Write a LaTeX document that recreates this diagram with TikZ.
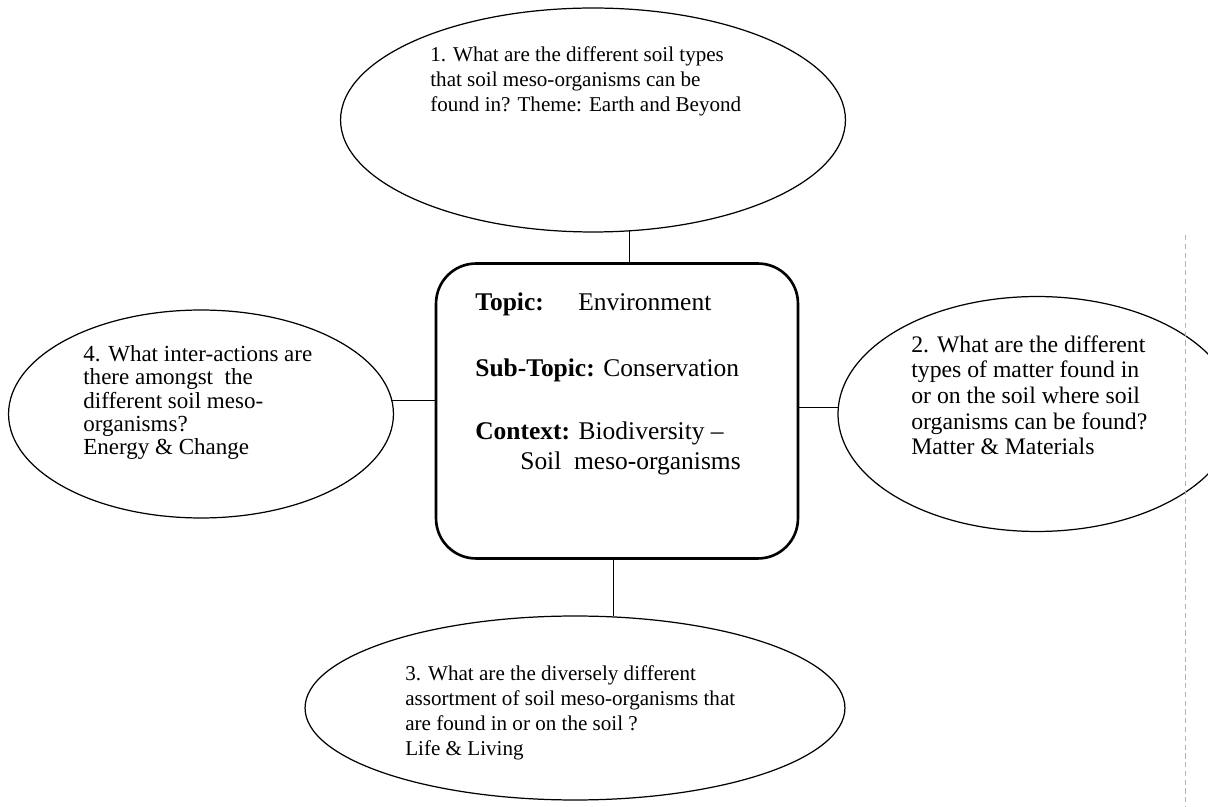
\documentclass[tikz,border=0pt]{standalone}
\usepackage{fontspec}
\setmainfont{Liberation Serif}
\usetikzlibrary{shapes.geometric}
\tikzset{
	bubble/.style={
			ellipse, draw, line width=0.7pt, inner sep=0pt
		},
	bubbletext/.style={
			anchor=north west, align=left, inner sep=0pt,
			font=\fontsize{12}{14.2}\selectfont
		},
	topicbox/.style={
			draw, line width=1.5pt, rounded corners=0.8cm,
			minimum width=7.24cm, minimum height=5.9cm
		},
	link/.style={line width=0.6pt}
}
\begin{document}
\begin{tikzpicture}[x=0.02cm, y=-0.02cm]
			\useasboundingbox (0,0) rectangle (1208,807);

			% centre box
			\node[topicbox] (topic) at (617,411) {};
			\node[anchor=north west, align=left, inner sep=0pt,
				font=\fontsize{14.5}{17.5}\selectfont] (topictext) at (475,292)
				{\makebox[2.06cm][l]{\textbf{Topic:}}Environment\\[20.5pt]
				\textbf{Sub-Topic:} Conservation\\[18pt]
				\textbf{Context:} Biodiversity --\\
				\hspace*{0.9cm}Soil\ \ meso-organisms};

			% the four questions
			\node[bubble, minimum width=10.1cm, minimum height=4.48cm] (q1) at (593,120) {};
			\node[bubbletext] (q1text) at (430,46)
				{1. What are the different soil types\\
				that soil meso-organisms can be\\
				found in? Theme: Earth and Beyond};

			\node[bubble, minimum width=7.96cm, minimum height=4.7cm] (q2) at (1037,414) {};
			\node[bubbletext, font=\fontsize{13.5}{14.6}\selectfont] (q2text) at (911,335)
				{2. What are the different\\
				types of matter found in\\
				or on the soil where soil\\
				organisms can be found?\\
				Matter \& Materials};

			\node[bubble, minimum width=10.8cm, minimum height=3.68cm] (q3) at (575,708) {};
			\node[bubbletext] (q3text) at (405,665)
				{3. What are the diversely different\\
				assortment of soil meso-organisms that\\
				are found in or on the soil ?\\
				Life \& Living};

			\node[bubble, minimum width=7.7cm, minimum height=4.16cm] (q4) at (201,414) {};
			\node[bubbletext, font=\fontsize{13.1}{13.3}\selectfont] (q4text) at (83,345)
				{4. What inter-actions are\\
				there amongst\ \ the\\
				different soil meso-\\
				organisms?\\
				Energy \& Change};

			% links
			\draw[link] (q1.-72) -- (q1.-72 |- topic.north);
			\draw[link] (q2.178) -- (q2.178 -| topic.east);
			\draw[link] (q3.67) -- (q3.67 |- topic.south);
			\draw[link] (q4.4) -- (q4.4 -| topic.west);

			% scan margin
			\draw[gray!60, line width=0.4pt, dash pattern=on 3pt off 2pt] (1185,235) -- (1185,807);
		\end{tikzpicture}
\end{document}
